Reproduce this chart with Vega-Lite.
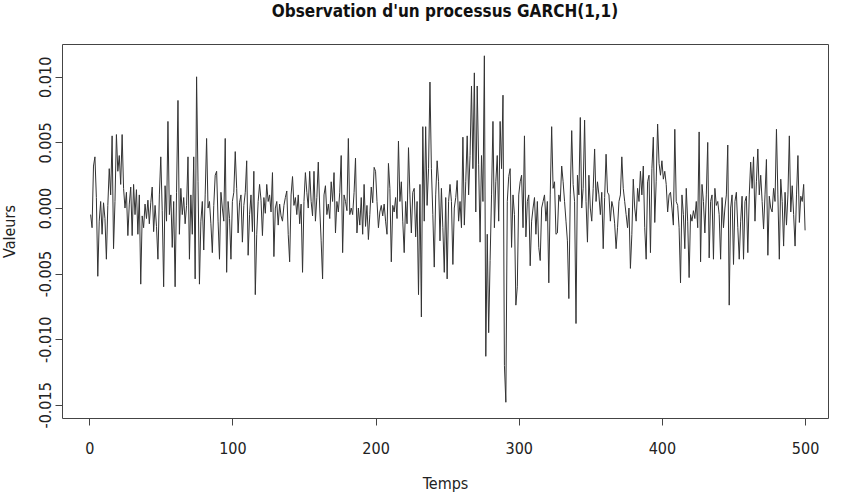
{
"$schema": "https://vega.github.io/schema/vega-lite/v6.json",
"width": 766, "height": 374,
"autosize": {"type": "none"},
"padding": {"left": 62, "top": 44, "right": 15, "bottom": 74},
"background": "white",
"title": {"text": "Observation d'un processus GARCH(1,1)", "font": "Liberation Sans Narrow, DejaVu Sans Condensed, Liberation Sans", "fontSize": 17, "fontWeight": "bold", "anchor": "middle", "color": "#111", "offset": 23},
"data": {"values": [
{"t":1,"v":-0.0005},{"t":2,"v":-0.0015},{"t":3,"v":0.0032},{"t":4,"v":0.0039},{"t":5,"v":0.0008},{"t":6,"v":-0.0052},{"t":7,"v":-0.001},{"t":8,"v":0.0005},{"t":9,"v":-0.002},{"t":10,"v":0.0004},
{"t":11,"v":-0.0008},{"t":12,"v":-0.0039},{"t":13,"v":0.0002},{"t":14,"v":0.003},{"t":15,"v":0.001},{"t":16,"v":0.0055},{"t":17,"v":-0.0031},{"t":18,"v":0.0005},{"t":19,"v":0.0056},{"t":20,"v":0.0028},
{"t":21,"v":0.004},{"t":22,"v":0.0018},{"t":23,"v":0.0056},{"t":24,"v":0.0015},{"t":25,"v":0.0},{"t":26,"v":0.0012},{"t":27,"v":-0.0021},{"t":28,"v":0.0003},{"t":29,"v":0.0016},{"t":30,"v":-0.0021},
{"t":31,"v":0.0018},{"t":32,"v":-0.0005},{"t":33,"v":0.0014},{"t":34,"v":-0.002},{"t":35,"v":0.001},{"t":36,"v":-0.0058},{"t":37,"v":-0.0006},{"t":38,"v":-0.0015},{"t":39,"v":0.0003},{"t":40,"v":-0.0008},
{"t":41,"v":0.0006},{"t":42,"v":-0.0012},{"t":43,"v":0.0004},{"t":44,"v":0.0016},{"t":45,"v":-0.0018},{"t":46,"v":0.0002},{"t":47,"v":-0.0014},{"t":48,"v":-0.0039},{"t":49,"v":0.001},{"t":50,"v":0.0039},
{"t":51,"v":-0.0002},{"t":52,"v":-0.006},{"t":53,"v":0.0017},{"t":54,"v":-0.001},{"t":55,"v":0.0066},{"t":56,"v":-0.0005},{"t":57,"v":0.001},{"t":58,"v":-0.003},{"t":59,"v":0.0005},{"t":60,"v":-0.006},
{"t":61,"v":0.0012},{"t":62,"v":0.0082},{"t":63,"v":-0.002},{"t":64,"v":0.0015},{"t":65,"v":-0.0005},{"t":66,"v":0.0008},{"t":67,"v":-0.0012},{"t":68,"v":0.0002},{"t":69,"v":0.0039},{"t":70,"v":-0.0039},
{"t":71,"v":0.001},{"t":72,"v":-0.002},{"t":73,"v":0.0039},{"t":74,"v":-0.0054},{"t":75,"v":0.01},{"t":76,"v":0.002},{"t":77,"v":-0.0058},{"t":78,"v":-0.001},{"t":79,"v":0.0005},{"t":80,"v":-0.0032},
{"t":81,"v":0.001},{"t":82,"v":0.0053},{"t":83,"v":0.0},{"t":84,"v":0.0005},{"t":85,"v":-0.0012},{"t":86,"v":-0.0034},{"t":87,"v":0.0002},{"t":88,"v":0.0025},{"t":89,"v":0.0028},{"t":90,"v":-0.001},
{"t":91,"v":-0.0039},{"t":92,"v":0.0012},{"t":93,"v":0.0},{"t":94,"v":-0.001},{"t":95,"v":0.0053},{"t":96,"v":-0.0049},{"t":97,"v":0.0005},{"t":98,"v":-0.0008},{"t":99,"v":-0.0039},{"t":100,"v":0.0005},
{"t":101,"v":0.0012},{"t":102,"v":0.0043},{"t":103,"v":0.0015},{"t":104,"v":-0.0019},{"t":105,"v":0.0004},{"t":106,"v":0.001},{"t":107,"v":-0.0026},{"t":108,"v":0.0002},{"t":109,"v":0.0012},{"t":110,"v":0.0036},
{"t":111,"v":-0.0036},{"t":112,"v":-0.0005},{"t":113,"v":0.001},{"t":114,"v":-0.0018},{"t":115,"v":0.0028},{"t":116,"v":-0.0066},{"t":117,"v":-0.002},{"t":118,"v":0.0005},{"t":119,"v":0.0018},{"t":120,"v":0.0006},
{"t":121,"v":-0.0021},{"t":122,"v":0.0008},{"t":123,"v":-0.0004},{"t":124,"v":0.0018},{"t":125,"v":0.0005},{"t":126,"v":0.001},{"t":127,"v":-0.0003},{"t":128,"v":0.0027},{"t":129,"v":-0.0037},{"t":130,"v":0.0},
{"t":131,"v":0.0005},{"t":132,"v":-0.0013},{"t":133,"v":0.0003},{"t":134,"v":-0.0006},{"t":135,"v":-0.001},{"t":136,"v":0.0002},{"t":137,"v":0.0008},{"t":138,"v":0.0013},{"t":139,"v":-0.002},{"t":140,"v":-0.0041},
{"t":141,"v":0.001},{"t":142,"v":0.0024},{"t":143,"v":0.0002},{"t":144,"v":0.0008},{"t":145,"v":-0.0005},{"t":146,"v":0.001},{"t":147,"v":-0.0012},{"t":148,"v":0.0003},{"t":149,"v":-0.0049},{"t":150,"v":0.0005},
{"t":151,"v":0.0027},{"t":152,"v":0.0012},{"t":153,"v":0.0},{"t":154,"v":0.0028},{"t":155,"v":0.0005},{"t":156,"v":-0.0006},{"t":157,"v":0.0028},{"t":158,"v":-0.001},{"t":159,"v":0.0008},{"t":160,"v":0.0035},
{"t":161,"v":0.0},{"t":162,"v":-0.0025},{"t":163,"v":-0.0054},{"t":164,"v":0.001},{"t":165,"v":0.0017},{"t":166,"v":-0.0005},{"t":167,"v":0.0003},{"t":168,"v":-0.0008},{"t":169,"v":0.002},{"t":170,"v":0.0005},
{"t":171,"v":0.0027},{"t":172,"v":-0.0019},{"t":173,"v":0.0005},{"t":174,"v":-0.0003},{"t":175,"v":0.0012},{"t":176,"v":0.004},{"t":177,"v":-0.0034},{"t":178,"v":0.001},{"t":179,"v":0.0005},{"t":180,"v":-0.0002},
{"t":181,"v":0.0053},{"t":182,"v":-0.0005},{"t":183,"v":0.0},{"t":184,"v":-0.0005},{"t":185,"v":0.0012},{"t":186,"v":0.0038},{"t":187,"v":-0.0019},{"t":188,"v":0.0},{"t":189,"v":-0.0013},{"t":190,"v":0.0008},
{"t":191,"v":-0.002},{"t":192,"v":0.0018},{"t":193,"v":-0.0014},{"t":194,"v":0.0002},{"t":195,"v":-0.0024},{"t":196,"v":-0.0005},{"t":197,"v":0.0016},{"t":198,"v":0.0004},{"t":199,"v":0.0031},{"t":200,"v":0.0028},
{"t":201,"v":0.0005},{"t":202,"v":-0.0015},{"t":203,"v":-0.0003},{"t":204,"v":0.0002},{"t":205,"v":-0.0006},{"t":206,"v":0.0003},{"t":207,"v":-0.001},{"t":208,"v":-0.002},{"t":209,"v":0.0034},{"t":210,"v":0.0015},
{"t":211,"v":-0.0041},{"t":212,"v":0.0002},{"t":213,"v":-0.0003},{"t":214,"v":0.0008},{"t":215,"v":-0.0008},{"t":216,"v":0.0051},{"t":217,"v":0.0005},{"t":218,"v":0.002},{"t":219,"v":-0.001},{"t":220,"v":-0.0034},
{"t":221,"v":0.0005},{"t":222,"v":-0.0012},{"t":223,"v":0.0046},{"t":224,"v":0.001},{"t":225,"v":-0.0019},{"t":226,"v":0.0012},{"t":227,"v":0.0015},{"t":228,"v":-0.0022},{"t":229,"v":0.0005},{"t":230,"v":-0.0066},
{"t":231,"v":0.0018},{"t":232,"v":-0.0083},{"t":233,"v":0.0062},{"t":234,"v":-0.001},{"t":235,"v":0.0062},{"t":236,"v":0.0002},{"t":237,"v":0.003},{"t":238,"v":0.0096},{"t":239,"v":0.003},{"t":240,"v":-0.0005},
{"t":241,"v":-0.0045},{"t":242,"v":0.001},{"t":243,"v":0.0036},{"t":244,"v":0.002},{"t":245,"v":-0.0025},{"t":246,"v":0.0015},{"t":247,"v":-0.0015},{"t":248,"v":-0.0049},{"t":249,"v":0.0008},{"t":250,"v":-0.0054},
{"t":251,"v":0.0005},{"t":252,"v":0.0018},{"t":253,"v":0.0005},{"t":254,"v":-0.0043},{"t":255,"v":0.0},{"t":256,"v":0.0008},{"t":257,"v":0.0021},{"t":258,"v":-0.001},{"t":259,"v":0.0005},{"t":260,"v":-0.0015},
{"t":261,"v":0.0054},{"t":262,"v":-0.0013},{"t":263,"v":0.002},{"t":264,"v":0.0055},{"t":265,"v":0.001},{"t":266,"v":0.004},{"t":267,"v":0.0093},{"t":268,"v":0.003},{"t":269,"v":0.0103},{"t":270,"v":-0.0003},
{"t":271,"v":0.0093},{"t":272,"v":0.0033},{"t":273,"v":-0.0026},{"t":274,"v":0.004},{"t":275,"v":0.0005},{"t":276,"v":0.0116},{"t":277,"v":-0.0113},{"t":278,"v":-0.002},{"t":279,"v":-0.0095},{"t":280,"v":-0.004},
{"t":281,"v":0.001},{"t":282,"v":0.0066},{"t":283,"v":-0.0015},{"t":284,"v":0.002},{"t":285,"v":0.004},{"t":286,"v":-0.001},{"t":287,"v":0.0066},{"t":288,"v":0.003},{"t":289,"v":0.0086},{"t":290,"v":-0.012},
{"t":291,"v":-0.0148},{"t":292,"v":0.0005},{"t":293,"v":0.0024},{"t":294,"v":0.003},{"t":295,"v":-0.003},{"t":296,"v":0.001},{"t":297,"v":-0.0005},{"t":298,"v":-0.0074},{"t":299,"v":-0.006},{"t":300,"v":0.001},
{"t":301,"v":0.002},{"t":302,"v":0.0025},{"t":303,"v":-0.0015},{"t":304,"v":0.0055},{"t":305,"v":-0.0022},{"t":306,"v":0.0005},{"t":307,"v":0.001},{"t":308,"v":-0.0044},{"t":309,"v":-0.001},{"t":310,"v":0.0},
{"t":311,"v":0.0008},{"t":312,"v":-0.002},{"t":313,"v":0.0005},{"t":314,"v":-0.003},{"t":315,"v":-0.004},{"t":316,"v":0.0},{"t":317,"v":0.0005},{"t":318,"v":0.001},{"t":319,"v":-0.001},{"t":320,"v":0.0005},
{"t":321,"v":-0.0057},{"t":322,"v":0.001},{"t":323,"v":0.0062},{"t":324,"v":0.0015},{"t":325,"v":0.002},{"t":326,"v":-0.002},{"t":327,"v":-0.0019},{"t":328,"v":0.001},{"t":329,"v":0.0005},{"t":330,"v":0.0032},
{"t":331,"v":0.002},{"t":332,"v":0.0005},{"t":333,"v":-0.001},{"t":334,"v":-0.0025},{"t":335,"v":-0.0069},{"t":336,"v":0.001},{"t":337,"v":0.0059},{"t":338,"v":0.0018},{"t":339,"v":0.0005},{"t":340,"v":-0.0088},
{"t":341,"v":0.0025},{"t":342,"v":0.001},{"t":343,"v":0.0069},{"t":344,"v":0.0},{"t":345,"v":0.0015},{"t":346,"v":0.0067},{"t":347,"v":0.0005},{"t":348,"v":-0.0026},{"t":349,"v":0.0025},{"t":350,"v":0.0},
{"t":351,"v":-0.001},{"t":352,"v":0.0015},{"t":353,"v":0.0045},{"t":354,"v":0.0005},{"t":355,"v":0.002},{"t":356,"v":0.001},{"t":357,"v":-0.0005},{"t":358,"v":0.0012},{"t":359,"v":-0.0031},{"t":360,"v":0.0008},
{"t":361,"v":0.0041},{"t":362,"v":0.0012},{"t":363,"v":0.001},{"t":364,"v":-0.001},{"t":365,"v":0.0005},{"t":366,"v":0.0},{"t":367,"v":-0.0012},{"t":368,"v":-0.0031},{"t":369,"v":-0.0015},{"t":370,"v":0.0005},
{"t":371,"v":0.001},{"t":372,"v":0.0039},{"t":373,"v":0.0015},{"t":374,"v":0.0005},{"t":375,"v":-0.0005},{"t":376,"v":-0.0015},{"t":377,"v":0.0},{"t":378,"v":-0.0046},{"t":379,"v":-0.002},{"t":380,"v":0.0022},
{"t":381,"v":0.0},{"t":382,"v":-0.001},{"t":383,"v":0.0015},{"t":384,"v":0.0005},{"t":385,"v":0.0028},{"t":386,"v":0.001},{"t":387,"v":0.0032},{"t":388,"v":-0.0015},{"t":389,"v":-0.0039},{"t":390,"v":0.002},
{"t":391,"v":0.0025},{"t":392,"v":-0.0034},{"t":393,"v":0.003},{"t":394,"v":0.0054},{"t":395,"v":-0.0011},{"t":396,"v":0.002},{"t":397,"v":0.0064},{"t":398,"v":0.0034},{"t":399,"v":0.0025},{"t":400,"v":0.0036},
{"t":401,"v":0.0022},{"t":402,"v":0.0028},{"t":403,"v":0.0018},{"t":404,"v":-0.0003},{"t":405,"v":0.001},{"t":406,"v":0.0012},{"t":407,"v":0.0},{"t":408,"v":-0.0013},{"t":409,"v":0.006},{"t":410,"v":0.0005},
{"t":411,"v":0.0002},{"t":412,"v":-0.0015},{"t":413,"v":-0.0057},{"t":414,"v":0.001},{"t":415,"v":-0.0005},{"t":416,"v":-0.0031},{"t":417,"v":0.0015},{"t":418,"v":-0.001},{"t":419,"v":-0.0053},{"t":420,"v":-0.0005},
{"t":421,"v":-0.001},{"t":422,"v":-0.0002},{"t":423,"v":-0.0008},{"t":424,"v":0.0005},{"t":425,"v":-0.0015},{"t":426,"v":0.0058},{"t":427,"v":-0.0041},{"t":428,"v":0.0018},{"t":429,"v":0.0005},{"t":430,"v":-0.0019},
{"t":431,"v":0.001},{"t":432,"v":0.005},{"t":433,"v":-0.0038},{"t":434,"v":0.0005},{"t":435,"v":0.001},{"t":436,"v":-0.0039},{"t":437,"v":0.0015},{"t":438,"v":0.0002},{"t":439,"v":0.0005},{"t":440,"v":-0.0005},
{"t":441,"v":-0.0039},{"t":442,"v":0.0008},{"t":443,"v":-0.0015},{"t":444,"v":0.0},{"t":445,"v":0.001},{"t":446,"v":0.0048},{"t":447,"v":-0.0074},{"t":448,"v":0.0},{"t":449,"v":0.001},{"t":450,"v":-0.0043},
{"t":451,"v":0.0005},{"t":452,"v":0.0012},{"t":453,"v":-0.0015},{"t":454,"v":-0.0039},{"t":455,"v":-0.001},{"t":456,"v":0.0009},{"t":457,"v":-0.0039},{"t":458,"v":0.0005},{"t":459,"v":0.0009},{"t":460,"v":-0.0034},
{"t":461,"v":0.001},{"t":462,"v":0.0035},{"t":463,"v":0.0015},{"t":464,"v":0.0039},{"t":465,"v":-0.001},{"t":466,"v":0.002},{"t":467,"v":0.0045},{"t":468,"v":0.001},{"t":469,"v":0.0025},{"t":470,"v":0.0005},
{"t":471,"v":-0.0016},{"t":472,"v":0.001},{"t":473,"v":0.0037},{"t":474,"v":-0.0036},{"t":475,"v":0.0009},{"t":476,"v":0.0},{"t":477,"v":-0.0003},{"t":478,"v":0.0015},{"t":479,"v":0.0005},{"t":480,"v":0.006},
{"t":481,"v":0.001},{"t":482,"v":-0.0039},{"t":483,"v":0.0022},{"t":484,"v":0.0005},{"t":485,"v":-0.0029},{"t":486,"v":0.0012},{"t":487,"v":-0.0013},{"t":488,"v":0.001},{"t":489,"v":0.0055},{"t":490,"v":-0.0003},
{"t":491,"v":0.0017},{"t":492,"v":-0.0005},{"t":493,"v":-0.0029},{"t":494,"v":0.001},{"t":495,"v":0.004},{"t":496,"v":-0.0011},{"t":497,"v":0.0009},{"t":498,"v":0.0005},{"t":499,"v":0.0018},{"t":500,"v":-0.0017}
]},
"mark": {"type": "line", "color": "#333", "strokeWidth": 1, "interpolate": "linear"},
"encoding": {
  "x": {"field": "t", "type": "quantitative", "scale": {"domain": [-19, 516], "nice": false, "zero": false},
        "axis": {"values": [0, 100, 200, 300, 400, 500], "title": "Temps", "labelPadding": 15, "titleY": 65, "titleBaseline": "middle", "titleX": 383}},
  "y": {"field": "v", "type": "quantitative", "scale": {"domain": [-0.016, 0.0125], "nice": false, "zero": false},
        "axis": {"values": [-0.015, -0.01, -0.005, 0, 0.005, 0.01], "format": ".3f", "title": "Valeurs", "labelAngle": -90, "labelAlign": "center", "labelBaseline": "bottom", "labelPadding": 2, "titleAngle": -90, "titleX": -53, "titleY": 187, "titleAlign": "center", "titleBaseline": "middle"}}
},
"config": {
  "locale": {"number": {"decimal": ".", "thousands": ",", "grouping": [3], "currency": ["$", ""], "minus": "-"}},
  "view": {"stroke": "#444", "strokeWidth": 1},
  "axis": {"domain": false, "grid": false, "ticks": true, "tickColor": "#444", "tickSize": 7, "tickWidth": 1,
           "labelColor": "#222", "labelFont": "Liberation Sans Narrow, DejaVu Sans Condensed, Liberation Sans", "labelFontSize": 16,
           "titleColor": "#222", "titleFont": "Liberation Sans Narrow, DejaVu Sans Condensed, Liberation Sans", "titleFontSize": 16, "titleFontWeight": "normal", "labelFlush": false, "labelOverlap": false}
}
}
